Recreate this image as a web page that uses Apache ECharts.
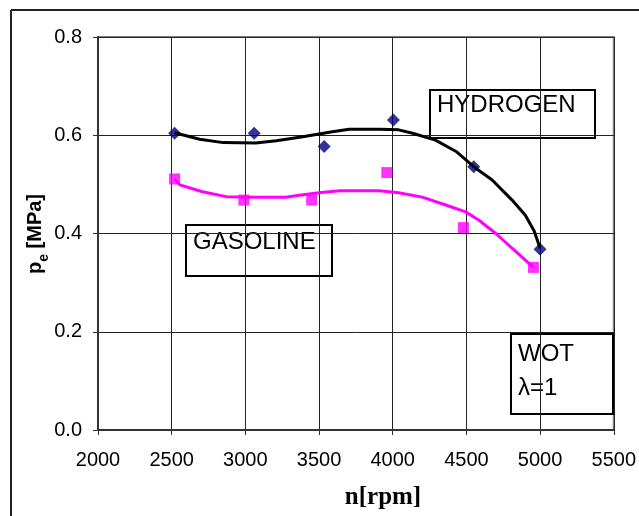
<!DOCTYPE html>
<html>
<head>
<meta charset="utf-8">
<script src="https://cdn.jsdelivr.net/npm/echarts@6/dist/echarts.min.js"></script>
<style>
  html, body { margin: 0; padding: 0; background: #fff; }
  #main { width: 639px; height: 516px; }
</style>
</head>
<body>
<div id="main"></div>
<script>
// measured points (rpm, pe)
var hydrogenRpm = [2520, 3060, 3535, 4005, 4550, 5000];
var hydrogenPe = [0.604, 0.604, 0.577, 0.631, 0.536, 0.368];
var gasolineRpm = [2520, 2990, 3450, 3960, 4480, 4955];
var gasolinePe = [0.511, 0.468, 0.468, 0.524, 0.412, 0.331];

// trend lines
var hydrogenTrendRpm = [2520, 2690, 2850, 3070, 3210, 3390, 3590, 3705, 3910, 4040, 4135, 4290, 4430, 4550, 4675, 4810, 4900, 4960, 5000];
var hydrogenTrendPe = [0.605, 0.592, 0.585, 0.584, 0.589, 0.597, 0.607, 0.612, 0.612, 0.611, 0.604, 0.590, 0.567, 0.536, 0.509, 0.468, 0.437, 0.405, 0.370];
var gasolineTrendRpm = [2520, 2555, 2710, 2870, 3095, 3275, 3365, 3500, 3640, 3910, 4040, 4200, 4360, 4495, 4585, 4700, 4810, 4925, 4955];
var gasolineTrendPe = [0.511, 0.499, 0.485, 0.475, 0.474, 0.474, 0.478, 0.483, 0.487, 0.487, 0.483, 0.474, 0.458, 0.444, 0.427, 0.400, 0.370, 0.339, 0.331];

var xTicks = [2000, 2500, 3000, 3500, 4000, 4500, 5000, 5500];
var yTicks = [0.0, 0.2, 0.4, 0.6, 0.8];

function pairs(xs, ys) {
  return xs.map(function (x, i) { return [x, ys[i]]; });
}

var sans = 'Arial, "Liberation Sans", sans-serif';

var myChart = echarts.init(document.getElementById('main'));
myChart.setOption({
  animation: false,
  backgroundColor: '#fff',
  grid: {
    left: 98, right: 24, top: 37, bottom: 86,
    show: true, borderColor: '#808080', borderWidth: 2
  },
  xAxis: {
    type: 'value',
    min: xTicks[0], max: xTicks[xTicks.length - 1], interval: 500,
    axisLine: { show: true, lineStyle: { color: '#333', width: 2 } },
    axisTick: { show: true, length: 5, lineStyle: { color: '#333' } },
    axisLabel: {
      color: '#000', fontFamily: sans, fontSize: 20, margin: 20,
      formatter: function (v) { return String(v); }
    },
    splitLine: { show: true, lineStyle: { color: '#222', width: 1 } }
  },
  yAxis: {
    type: 'value',
    min: yTicks[0], max: yTicks[yTicks.length - 1], interval: 0.2,
    axisLine: { show: true, lineStyle: { color: '#333', width: 2 } },
    axisTick: { show: true, length: 5, lineStyle: { color: '#333' } },
    axisLabel: {
      color: '#000', fontFamily: sans, fontSize: 20, margin: 16,
      formatter: function (v) { return v.toFixed(1); }
    },
    splitLine: { show: true, lineStyle: { color: '#222', width: 1 } }
  },
  series: [
    {
      name: 'HYDROGEN',
      type: 'scatter',
      symbol: 'diamond',
      symbolSize: [13, 13],
      itemStyle: { color: '#000080' },
      data: pairs(hydrogenRpm, hydrogenPe),
      z: 3
    },
    {
      name: 'GASOLINE',
      type: 'scatter',
      symbol: 'rect',
      symbolSize: 11,
      itemStyle: { color: '#ff00ff' },
      data: pairs(gasolineRpm, gasolinePe),
      z: 3
    },
    {
      name: 'hydrogen trend',
      type: 'line',
      showSymbol: false,
      lineStyle: { color: '#000', width: 3 },
      data: pairs(hydrogenTrendRpm, hydrogenTrendPe),
      z: 4
    },
    {
      name: 'gasoline trend',
      type: 'line',
      showSymbol: false,
      lineStyle: { color: '#ff00ff', width: 3 },
      data: pairs(gasolineTrendRpm, gasolineTrendPe),
      z: 4
    }
  ],
  graphic: [
    // outer frame
    { type: 'line', shape: { x1: 11, y1: 10, x2: 639, y2: 10 }, style: { stroke: '#222', lineWidth: 2 } },
    { type: 'line', shape: { x1: 11, y1: 10, x2: 11, y2: 516 }, style: { stroke: '#222', lineWidth: 2 } },
    // HYDROGEN box
    {
      type: 'group', z: 100,
      children: [
        { type: 'rect', shape: { x: 430, y: 90, width: 165, height: 48 }, style: { fill: '#fff', stroke: '#000', lineWidth: 2 } },
        { type: 'text', x: 437, y: 93, style: { text: 'HYDROGEN', font: '24px ' + sans, fill: '#000' } }
      ]
    },
    // GASOLINE box
    {
      type: 'group', z: 100,
      children: [
        { type: 'rect', shape: { x: 186, y: 225, width: 146, height: 51 }, style: { fill: '#fff', stroke: '#000', lineWidth: 2 } },
        { type: 'text', x: 193, y: 230, style: { text: 'GASOLINE', font: '24px ' + sans, fill: '#000' } }
      ]
    },
    // WOT box
    {
      type: 'group', z: 100,
      children: [
        { type: 'rect', shape: { x: 511, y: 334, width: 102, height: 80 }, style: { fill: '#fff', stroke: '#000', lineWidth: 2 } },
        { type: 'text', x: 518, y: 337, style: { text: 'WOT\nλ=1', font: '24px ' + sans, fill: '#000', lineHeight: 34 } }
      ]
    },
    // y axis title
    {
      type: 'text', x: 37, y: 234, rotation: Math.PI / 2, z: 100,
      style: {
        text: '{p|p}{e|e}{p| [MPa]}',
        align: 'center', verticalAlign: 'middle',
        rich: {
          p: { fontFamily: sans, fontWeight: 'bold', fontSize: 20, fill: '#000', lineHeight: 24, verticalAlign: 'top' },
          e: { fontFamily: sans, fontWeight: 'bold', fontSize: 14, fill: '#000', lineHeight: 24, verticalAlign: 'bottom', padding: [0, 0, -2, 0] }
        }
      }
    },
    // x axis title
    {
      type: 'text', x: 383, y: 498, z: 100,
      style: {
        text: 'n[rpm]', align: 'center', verticalAlign: 'middle',
        font: 'bold 25px "Times New Roman", "Liberation Serif", serif', fill: '#000'
      }
    }
  ]
});
</script>
</body>
</html>
